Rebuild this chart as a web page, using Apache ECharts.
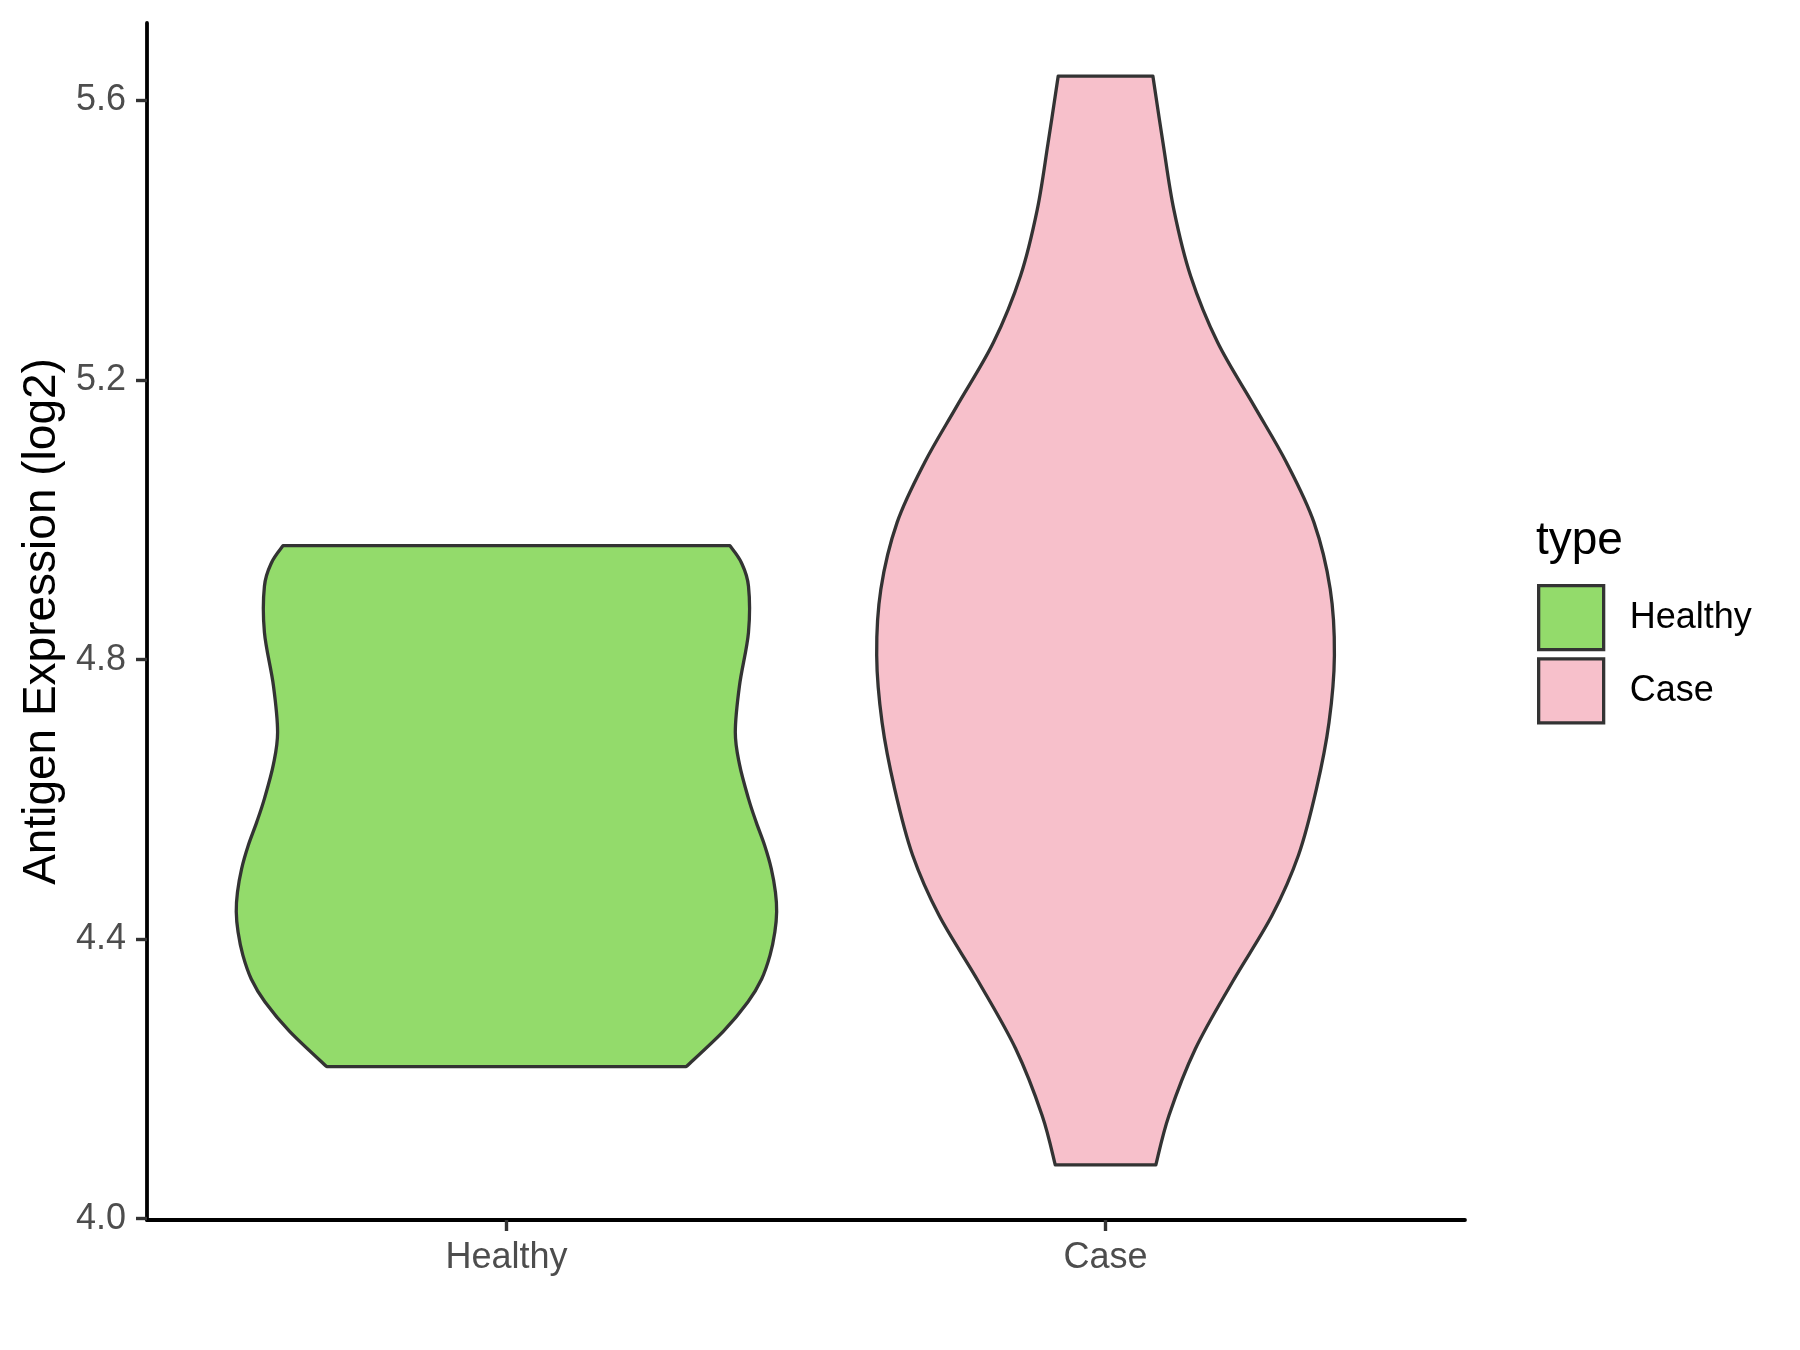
<!DOCTYPE html>
<html>
<head>
<meta charset="utf-8">
<script src="https://cdn.jsdelivr.net/npm/echarts@6/dist/echarts.min.js"></script>
<style>html,body{margin:0;padding:0;background:#fff;}#chart{width:1800px;height:1350px;}</style>
</head>
<body>
<div id="chart"></div>
<script>
// ---- data ----
const categories = ['Healthy', 'Case'];
const yTicks = [4.0, 4.4, 4.8, 5.2, 5.6];
// violin outlines: value (log2) and half-width (in category units), from top to bottom
const healthyValues = [4.963, 4.939, 4.905, 4.839, 4.763, 4.696, 4.650, 4.601, 4.567, 4.534, 4.501, 4.467, 4.439, 4.410, 4.377, 4.343, 4.310, 4.268, 4.2175];
const healthyHalfWidth = [0.373, 0.392, 0.404, 0.404, 0.389, 0.382, 0.389, 0.404, 0.417, 0.431, 0.442, 0.449, 0.451, 0.448, 0.440, 0.426, 0.403, 0.362, 0.300];
const caseValues = [5.635, 5.539, 5.444, 5.349, 5.254, 5.163, 5.082, 4.996, 4.901, 4.806, 4.710, 4.615, 4.520, 4.434, 4.339, 4.243, 4.148, 4.077];
const caseHalfWidth = [0.079, 0.096, 0.114, 0.142, 0.187, 0.248, 0.302, 0.348, 0.375, 0.382, 0.373, 0.352, 0.322, 0.278, 0.212, 0.150, 0.106, 0.084];

const FONT = '"Liberation Sans", Arial, Helvetica, sans-serif';
const groups = [
  { name: 'Healthy', values: healthyValues, half: healthyHalfWidth, fill: '#93DB6B' },
  { name: 'Case', values: caseValues, half: caseHalfWidth, fill: '#F7C0CB' }
];
const OUTLINE = '#333333';

function smoothSeg(pts) {
  // Catmull-Rom -> cubic bezier path segments (without initial M)
  let d = '';
  for (let i = 0; i < pts.length - 1; i++) {
    const p0 = pts[Math.max(0, i - 1)], p1 = pts[i], p2 = pts[i + 1], p3 = pts[Math.min(pts.length - 1, i + 2)];
    const c1x = p1[0] + (p2[0] - p0[0]) / 6, c1y = p1[1] + (p2[1] - p0[1]) / 6;
    const c2x = p2[0] - (p3[0] - p1[0]) / 6, c2y = p2[1] - (p3[1] - p1[1]) / 6;
    d += ' C' + c1x + ',' + c1y + ' ' + c2x + ',' + c2y + ' ' + p2[0] + ',' + p2[1];
  }
  return d;
}

function makeRender(g, center) {
  return function (params, api) {
    const left = g.values.map((v, i) => api.coord([center - g.half[i], v]));
    const right = g.values.map((v, i) => api.coord([center + g.half[i], v])).reverse();
    let d = 'M' + left[0][0] + ',' + left[0][1] + smoothSeg(left);
    d += ' L' + right[0][0] + ',' + right[0][1] + smoothSeg(right) + ' Z';
    return {
      type: 'path',
      shape: { pathData: d },
      style: { fill: g.fill, stroke: OUTLINE, lineWidth: 3.3, lineJoin: 'round' }
    };
  };
}

const chart = echarts.init(document.getElementById('chart'));
const xTicks = categories.map((c, i) => i + 1);

chart.setOption({
  backgroundColor: '#ffffff',
  animation: false,
  grid: { left: 147, right: 335, top: 23, bottom: 130, containLabel: false },
  xAxis: {
    type: 'value', min: 0.4, max: 2.6,
    splitLine: { show: false },
    axisLine: { show: true, onZero: false, lineStyle: { color: '#000', width: 3.8 } },
    axisTick: { show: true, customValues: xTicks, length: 11, lineStyle: { color: '#333333', width: 3.4 } },
    axisLabel: { customValues: xTicks, formatter: v => categories[Math.round(v) - 1], color: '#4D4D4D', fontSize: 36, fontFamily: FONT, margin: 20 }
  },
  yAxis: {
    type: 'value', min: 3.998, max: 5.711,
    name: 'Antigen Expression (log2)', nameLocation: 'middle', nameGap: 77,
    nameTextStyle: { color: '#000', fontSize: 46, fontFamily: FONT },
    splitLine: { show: false },
    axisLine: { show: true, onZero: false, lineStyle: { color: '#000', width: 3.8 } },
    axisTick: { show: true, customValues: yTicks, length: 11, lineStyle: { color: '#333333', width: 3.4 } },
    axisLabel: { customValues: yTicks, formatter: v => v.toFixed(1), color: '#4D4D4D', fontSize: 36, fontFamily: FONT, margin: 21 }
  },
  legend: {
    orient: 'vertical', left: 1537, top: 584, padding: 0,
    itemWidth: 65, itemHeight: 64, itemGap: 6, icon: 'rect',
    textStyle: { color: '#000', fontSize: 36, fontFamily: FONT, padding: [6, 0, 0, 21] },
    data: groups.map(g => ({ name: g.name, itemStyle: { color: g.fill, borderColor: OUTLINE, borderWidth: 3.3 } }))
  },
  graphic: [{
    type: 'text', left: 1536, top: 518,
    style: { text: 'type', fill: '#000', font: '46px ' + FONT }
  }],
  series: groups.map((g, i) => ({
    type: 'custom', name: g.name, coordinateSystem: 'cartesian2d',
    itemStyle: { color: g.fill, borderColor: OUTLINE, borderWidth: 3.3 },
    renderItem: makeRender(g, i + 1),
    data: [[i + 1, g.values[0]]]
  }))
});
</script>
</body>
</html>
